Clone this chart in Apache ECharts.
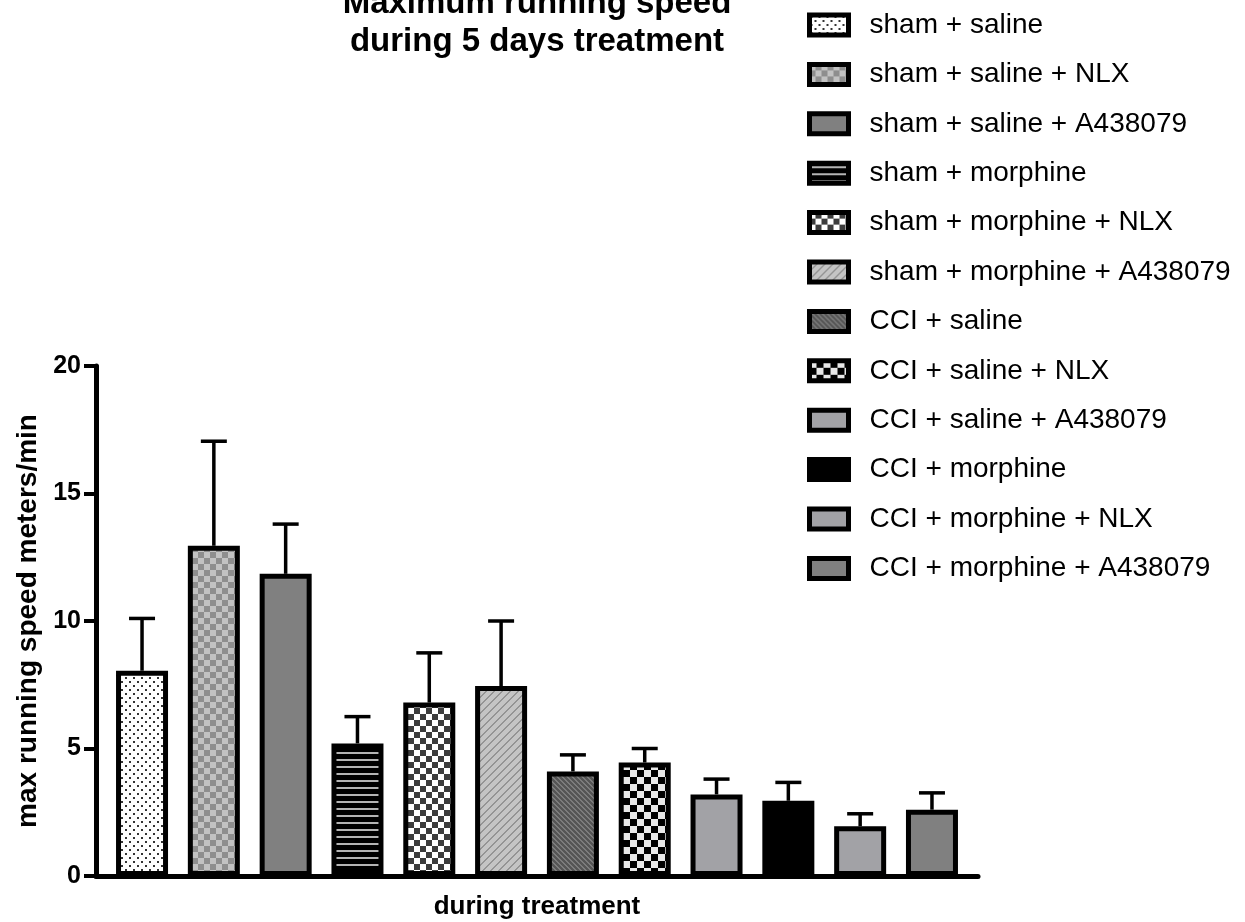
<!DOCTYPE html>
<html>
<head>
<meta charset="utf-8">
<script src="https://cdn.jsdelivr.net/npm/echarts@6/dist/echarts.min.js"></script>
<style>
  html, body { margin: 0; padding: 0; background: #fff; }
  #chart { width: 1245px; height: 922px; }
</style>
</head>
<body>
<div id="chart"></div>
<script>
// Treatment groups, in drawing order
const groups = [
  'sham + saline',
  'sham + saline + NLX',
  'sham + saline + A438079',
  'sham + morphine',
  'sham + morphine + NLX',
  'sham + morphine + A438079',
  'CCI + saline',
  'CCI + saline + NLX',
  'CCI + saline + A438079',
  'CCI + morphine',
  'CCI + morphine + NLX',
  'CCI + morphine + A438079'
];
// Mean max running speed (meters/min) and upper error (SEM)
const means = [8.05, 12.95, 11.85, 5.2, 6.8, 7.45, 4.1, 4.45, 3.2, 2.95, 1.95, 2.6];
const sems  = [2.05, 4.1, 1.95, 1.05, 1.95, 2.55, 0.65, 0.55, 0.6, 0.72, 0.49, 0.66];
const categories = ['during treatment'];
const yMin = 0, yMax = 20, yStep = 5;

const FONT = '"Liberation Sans", Arial, Helvetica, sans-serif';
const BAR_W = 52;
const BAR_GAP = 0.381;
const PITCH = BAR_W * (1 + BAR_GAP);

// ---- fill patterns built on small canvases ----
function tile(w, h, paint) {
  const c = document.createElement('canvas');
  c.width = w; c.height = h;
  const g = c.getContext('2d');
  paint(g, w, h);
  return { image: c, repeat: 'repeat' };
}
function checker(size, a, b) {
  return tile(size * 2, size * 2, (g) => {
    g.fillStyle = a; g.fillRect(0, 0, size * 2, size * 2);
    g.fillStyle = b; g.fillRect(size, 0, size, size); g.fillRect(0, size, size, size);
  });
}
function diagonal(period, width, bg, fg, rising) {
  return tile(period, period, (g) => {
    const img = g.createImageData(period, period);
    const parse = (hex) => [1, 3, 5].map(i => parseInt(hex.substr(i, 2), 16));
    const cb = parse(bg), cf = parse(fg);
    for (let y = 0; y < period; y++) {
      for (let x = 0; x < period; x++) {
        const t = rising ? (x + y) % period : ((x - y) % period + period) % period;
        const col = t < width ? cf : cb;
        const o = (y * period + x) * 4;
        img.data[o] = col[0]; img.data[o + 1] = col[1]; img.data[o + 2] = col[2]; img.data[o + 3] = 255;
      }
    }
    g.putImageData(img, 0, 0);
  });
}
const fills = [
  tile(8, 8, (g) => {           // dotted
    g.fillStyle = '#fff'; g.fillRect(0, 0, 8, 8);
    g.fillStyle = '#333'; g.fillRect(1, 1, 2, 2); g.fillRect(5, 5, 2, 2);
  }),
  checker(6, '#c2c2c2', '#8e8e8e'),
  '#808080',
  tile(4, 7, (g) => {           // horizontal stripes
    g.fillStyle = '#000'; g.fillRect(0, 0, 4, 7);
    g.fillStyle = '#b4b4b4'; g.fillRect(0, 3, 4, 2);
  }),
  checker(6, '#ffffff', '#3c3c3c'),
  diagonal(8, 2, '#c4c4c4', '#949494', true),
  diagonal(5, 2, '#555555', '#7c7c7c', false),
  checker(7, '#e8e8e8', '#000000'),
  '#a2a2a6',
  '#000000',
  '#a2a2a6',
  '#808080'
];

const barSeries = groups.map((name, i) => ({
  name: name,
  type: 'bar',
  barWidth: BAR_W,
  barGap: (BAR_GAP * 100) + '%',
  data: [means[i]],
  itemStyle: { color: fills[i], borderColor: '#000', borderWidth: 5 },
  emphasis: { disabled: true },
  z: 2
}));

const errorSeries = {
  type: 'custom',
  silent: true,
  z: 3,
  encode: { x: 0, y: 1 },
  data: groups.map((g, i) => [0, means[i], sems[i], i]),
  renderItem: function (params, api) {
    const k = api.value(3);
    const m = api.value(1);
    const e = api.value(2);
    const base = api.coord([0, m]);
    const top = api.coord([0, m + e]);
    const x = base[0] + (k - (groups.length - 1) / 2) * PITCH;
    const st = { stroke: '#000', lineWidth: 3.5 };
    return {
      type: 'group',
      children: [
        { type: 'line', shape: { x1: x, y1: base[1], x2: x, y2: top[1] }, style: st },
        { type: 'line', shape: { x1: x - 13, y1: top[1], x2: x + 13, y2: top[1] }, style: st }
      ]
    };
  }
};

const chart = echarts.init(document.getElementById('chart'), null, { renderer: 'canvas' });
chart.setOption({
  animation: false,
  backgroundColor: '#fff',
  title: {
    text: 'Maximum running speed\nduring 5 days treatment',
    left: 537,
    top: -15,
    padding: 0,
    textAlign: 'center',
    textStyle: { fontSize: 33, fontWeight: 'bold', lineHeight: 38, color: '#000', fontFamily: FONT }
  },
  legend: {
    data: groups,
    orient: 'vertical',
    left: 807,
    top: 10,
    padding: 0,
    icon: 'rect',
    itemWidth: 39,
    itemHeight: 20,
    itemGap: 19.4,
    selectedMode: false,
    itemStyle: { borderWidth: 5, borderColor: '#000' },
    textStyle: { fontSize: 28, color: '#000', fontFamily: FONT, lineHeight: 30, padding: [0, 0, 0, 16] }
  },
  grid: { left: 96, right: 267, top: 366, bottom: 46, containLabel: false },
  xAxis: {
    type: 'category',
    data: categories,
    boundaryGap: true,
    axisLine: { lineStyle: { color: '#000', width: 5 } },
    axisTick: { alignWithLabel: true, length: 13, lineStyle: { color: '#000', width: 4 } },
    axisLabel: { color: '#000', fontSize: 26, fontWeight: 'bold', fontFamily: FONT, margin: 18 },
    splitLine: { show: false }
  },
  yAxis: {
    type: 'value',
    min: yMin,
    max: yMax,
    interval: yStep,
    name: 'max running speed meters/min',
    nameLocation: 'middle',
    nameGap: 49,
    nameTextStyle: { color: '#000', fontSize: 28, fontWeight: 'bold', fontFamily: FONT },
    axisLine: { show: true, lineStyle: { color: '#000', width: 5 } },
    axisTick: { show: true, length: 12, lineStyle: { color: '#000', width: 4 } },
    axisLabel: { color: '#000', fontSize: 25, fontWeight: 'bold', fontFamily: FONT, margin: 15 },
    splitLine: { show: false }
  },
  series: barSeries.concat([errorSeries])
});
</script>
</body>
</html>
